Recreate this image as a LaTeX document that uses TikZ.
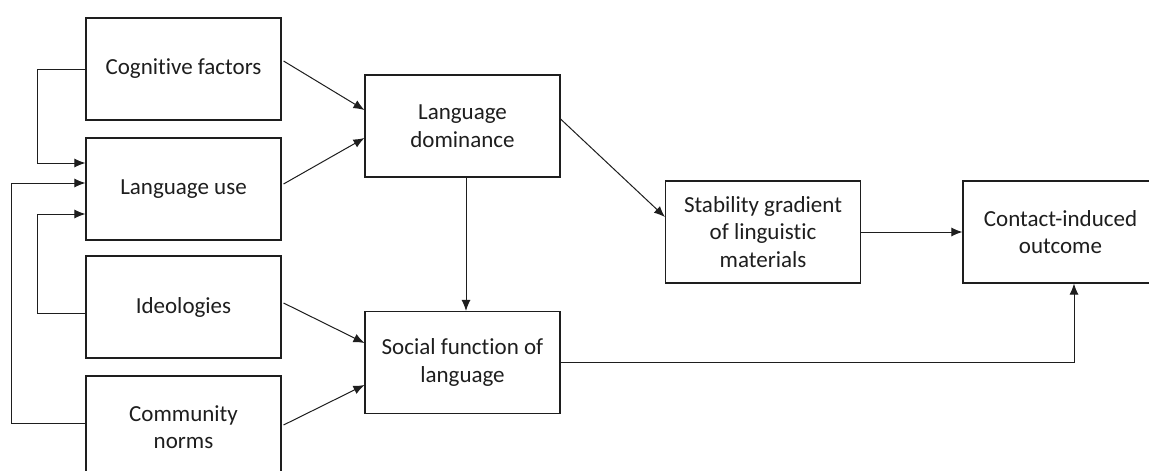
\documentclass[tikz,border=0pt]{standalone}
\usepackage{fontspec}
\setmainfont[Ligatures=NoCommon]{Carlito}
\usetikzlibrary{arrows.meta,calc}
\definecolor{ink}{HTML}{1E1E1E}
\begin{document}
\begin{tikzpicture}[x=1pt,y=-1pt,
  box/.style={draw=ink,line width=1.1pt,minimum width=195pt,minimum height=102pt,
    align=center,inner sep=0pt,text=ink,font=\fontsize{23}{27.5}\selectfont},
  conn/.style={draw=ink,line width=1pt,-{Latex[length=11pt,width=9pt]}},
  line/.style={draw=ink,line width=1pt}]
\useasboundingbox (0,0) rectangle (1149,471);
\clip (0,0) rectangle (1149,471);
\fill[white] (0,0) rectangle (1149,471);
\node[box] (cog) at (183.5,69) {Cognitive factors};
\node[box] (use) at (183.5,189) {Language use};
\node[box] (ideo) at (183.5,307) {Ideologies};
\node[box] (comm) at (183.5,427) {Community\\norms};
\node[box] (dom) at (462.5,126) {Language\\dominance};
\node[box] (soc) at (462.5,362.5) {Social function of\\language};
\node[box] (stab) at (763,232) {Stability gradient\\of linguistic\\materials};
\node[box] (cont) at (1060.5,232) {Contact-induced\\outcome};
% into dominance
\draw[conn] ([xshift=2pt,yshift=8pt]cog.east) -- ([yshift=16pt]dom.west);
\draw[conn] ([xshift=2pt,yshift=5pt]use.east) -- ([yshift=-12pt]dom.west);
% into social
\draw[conn] ([xshift=2pt,yshift=4pt]ideo.east) -- ([yshift=19.5pt]soc.west);
\draw[conn] ([xshift=2pt,yshift=2pt]comm.east) -- ([yshift=-22.5pt]soc.west);
% dominance
\draw[conn] ([yshift=7pt]dom.east) -- ([yshift=15pt]stab.west);
\draw[conn] ([xshift=3.5pt]dom.south) -- ([xshift=3.5pt]soc.north);
% stability -> contact
\draw[conn] (stab.east) -- (cont.west);
\draw[conn] (soc.east) -| ([xshift=13.5pt]cont.south);
% feedback loops
\draw[conn] (cog.west) -- ++(-48,0) |- ([yshift=26pt]use.west);
\draw[conn] ([yshift=4pt]comm.west) -- ++(-74,0) |- ([yshift=6pt]use.west);
\draw[conn] ([yshift=-6pt]ideo.west) -- ++(-48,0) |- ([yshift=-25pt]use.west);
\end{tikzpicture}
\end{document}
